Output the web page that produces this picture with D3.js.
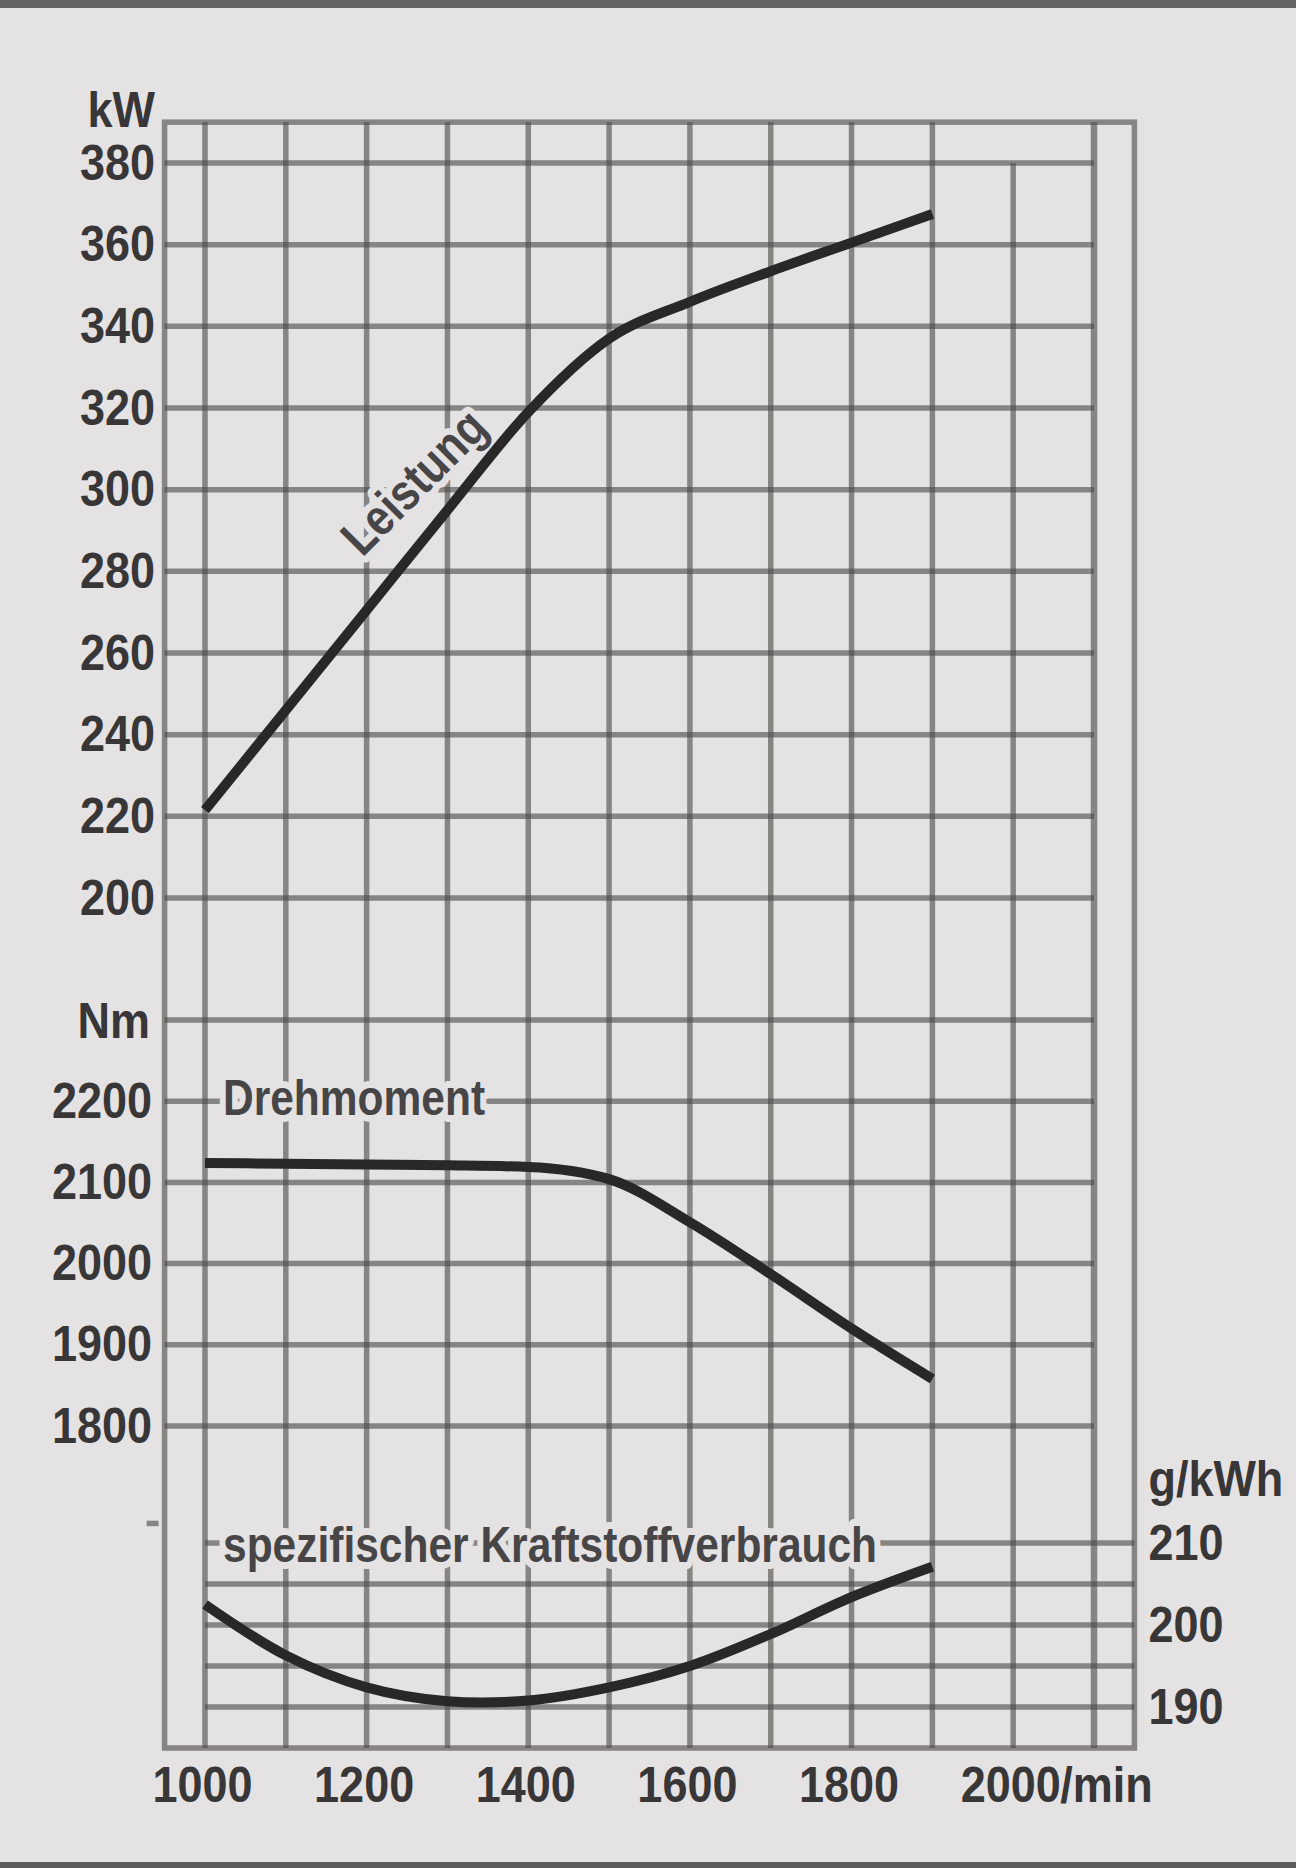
<!DOCTYPE html>
<html>
<head>
<meta charset="utf-8">
<script src="https://cdn.jsdelivr.net/npm/d3@7"></script>
<style>
    body { margin: 0; background: #e4e2e3; }
</style>
</head>
<body>
<div id="chart"></div>
<script>
const width = 1296, height = 1868;

// Drehzahl (1/min)
const rpm = [1000, 1100, 1200, 1300, 1400, 1500, 1600, 1700, 1800, 1900];
// Leistung (kW)
const leistung = [221.5, 246, 270.5, 295, 319, 337, 346, 353.5, 360.5, 367.5];
// Drehmoment (Nm)
const drehmoment = [2124, 2123, 2122, 2121, 2119, 2104, 2051, 1987, 1920, 1858];
// spezifischer Kraftstoffverbrauch (g/kWh)
const verbrauch = [202.5, 196.3, 192.4, 190.7, 190.8, 192.4, 195, 198.9, 203.4, 207.1];

// grid + tick values
const rpmGrid = [1000, 1100, 1200, 1300, 1400, 1500, 1600, 1700, 1800, 1900, 2000, 2100];
const rpmLabels = [1000, 1200, 1400, 1600, 1800, 2000];
const kwTicks = [200, 220, 240, 260, 280, 300, 320, 340, 360, 380];
const nmGrid = [1800, 1900, 2000, 2100, 2200, 2300];
const nmLabels = [1800, 1900, 2000, 2100, 2200];
const gGrid = [190, 195, 200, 205, 210];
const gLabels = [190, 200, 210];

const bg = "#e4e2e3";
const ink = "#383637";
const font = "'Liberation Sans', Arial, sans-serif";
const fontSize = 50;
// the print face is a narrow grotesk
const squeeze = "scale(0.85,1)";
const squeezeNum = "scale(0.9,1)";

const svg = d3.select("#chart")
    .append("svg")
    .attr("width", width)
    .attr("height", height);

svg.append("rect")
    .attr("width", width)
    .attr("height", height)
    .attr("fill", bg);

// photo edges
svg.append("rect").attr("width", width).attr("height", 8).attr("fill", "#666364");
svg.append("rect").attr("y", height - 6).attr("width", width).attr("height", 6).attr("fill", "#5e5b5c");

// scales
const x = d3.scaleLinear().domain([1000, 2100]).range([205, 1094]);
const yKW = d3.scaleLinear().domain([200, 380]).range([898, 163]);
const yNm = d3.scaleLinear().domain([1800, 2300]).range([1426, 1020]);
const yG = d3.scaleLinear().domain([190, 210]).range([1707, 1543]);

const frameTop = yKW(390), frameBottom = yG(185);
const frameLeft = x(950), frameRight = x(2150);

const grid = svg.append("g")
    .attr("stroke", "#4d4a4b")
    .attr("stroke-opacity", 0.62)
    .attr("stroke-width", 5.5)
    .attr("fill", "none");

// vertical lines
grid.selectAll("line.v")
    .data(rpmGrid)
    .enter()
    .append("line")
    .attr("class", "v")
    .attr("x1", d => x(d))
    .attr("x2", d => x(d))
    .attr("y1", d => d === 2000 ? yKW(380) : frameTop)
    .attr("y2", frameBottom)
    .attr("stroke-width", d => d === 2100 ? 6.5 : 5.5);

// kW lines
grid.selectAll("line.kw")
    .data(kwTicks)
    .enter()
    .append("line")
    .attr("class", "kw")
    .attr("x1", frameLeft)
    .attr("x2", x(2100))
    .attr("y1", d => yKW(d))
    .attr("y2", d => yKW(d));

// Nm lines
grid.selectAll("line.nm")
    .data(nmGrid)
    .enter()
    .append("line")
    .attr("class", "nm")
    .attr("x1", frameLeft)
    .attr("x2", x(2100))
    .attr("y1", d => yNm(d))
    .attr("y2", d => yNm(d));

// g/kWh lines
grid.selectAll("line.g")
    .data(gGrid)
    .enter()
    .append("line")
    .attr("class", "g")
    .attr("x1", x(1000))
    .attr("x2", frameRight)
    .attr("y1", d => yG(d))
    .attr("y2", d => yG(d));

// frame
grid.append("rect")
    .attr("x", frameLeft)
    .attr("y", frameTop)
    .attr("width", frameRight - frameLeft)
    .attr("height", frameBottom - frameTop);

// small loose tick on the left
grid.append("line")
    .attr("x1", frameLeft - 18)
    .attr("x2", frameLeft - 6)
    .attr("y1", yNm(1680))
    .attr("y2", yNm(1680));

// plain text placed with the narrow squeeze
function textAt(txt, tx, ty, extra, sq) {
    return svg.append("text")
        .text(txt)
        .attr("font-family", font)
        .attr("font-weight", "bold")
        .attr("font-size", fontSize)
        .attr("fill", ink)
        .attr("transform", `translate(${tx},${ty}) ${extra || ""} ${sq || squeeze}`);
}

// annotation text with paper-coloured knockout
function label(txt, tx, ty, extra) {
    return textAt(txt, tx, ty, extra)
        .attr("fill", "#474546")
        .attr("stroke", bg)
        .attr("stroke-width", 14)
        .attr("stroke-linejoin", "round")
        .attr("paint-order", "stroke")
        .attr("dominant-baseline", "central");
}

label("Drehmoment", x(1000) + 18, yNm(2200) - 3);
label("spezifischer Kraftstoffverbrauch", x(1000) + 18, yG(210) + 2);
label("Leistung", x(1258), yKW(302), "rotate(-45)")
    .attr("font-size", 51)
    .attr("text-anchor", "middle");

// curves
const curve = (yScale, c) => d3.line()
    .x((d, i) => x(rpm[i]))
    .y(d => yScale(d))
    .curve(c);

[
    [leistung, yKW, d3.curveMonotoneX],
    [drehmoment, yNm, d3.curveMonotoneX],
    [verbrauch, yG, d3.curveCatmullRom.alpha(0.5)]
].forEach(([vals, ys, c]) => {
    svg.append("path")
        .attr("d", curve(ys, c)(vals))
        .attr("fill", "none")
        .attr("stroke", "#2a2728")
        .attr("stroke-width", 10);
});

// axes (labels only)
function styleAxis(g) {
    g.select(".domain").remove();
    g.attr("font-family", font)
        .attr("font-weight", "bold")
        .attr("font-size", fontSize);
    g.selectAll("text")
        .attr("fill", ink)
        .attr("transform", squeezeNum);
}

svg.append("g")
    .attr("transform", "translate(155,0)")
    .call(d3.axisLeft(yKW).tickValues(kwTicks).tickSize(0).tickPadding(0).tickFormat(d3.format("d")))
    .call(styleAxis);

svg.append("g")
    .attr("transform", "translate(152,0)")
    .call(d3.axisLeft(yNm).tickValues(nmLabels).tickSize(0).tickPadding(0).tickFormat(d3.format("d")))
    .call(styleAxis);

svg.append("g")
    .attr("transform", `translate(${frameRight + 14},0)`)
    .call(d3.axisRight(yG).tickValues(gLabels).tickSize(0).tickPadding(0).tickFormat(d3.format("d")))
    .call(styleAxis);

const xAxis = svg.append("g")
    .attr("transform", "translate(-3,1784)")
    .call(d3.axisBottom(x).tickValues(rpmLabels).tickSize(0).tickPadding(0).tickFormat(d3.format("d")))
    .call(styleAxis);
xAxis.selectAll("text").attr("y", 0).attr("dy", "0.36em");

// units
textAt("kW", 155, 127, "", squeezeNum).attr("text-anchor", "end");
textAt("Nm", 150, yNm(2300), "", squeezeNum).attr("dy", "0.36em").attr("text-anchor", "end");
textAt("g/kWh", frameRight + 14, 1496, "", squeezeNum);

const bb = xAxis.selectAll(".tick").filter(d => d === 2000).select("text").node().getBBox();
textAt("/min", x(2000) - 3 + (bb.x + bb.width) * 0.9, 1784, "", squeezeNum).attr("dy", "0.36em");
</script>
</body>
</html>
